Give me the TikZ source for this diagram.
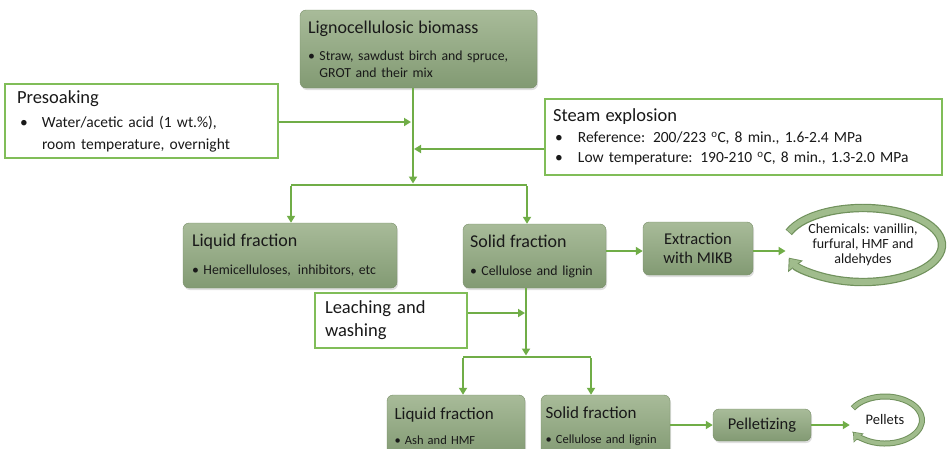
\documentclass[tikz,border=0pt]{standalone}
\usepackage{fontspec}
\setmainfont{Carlito}
\usepackage{tikz}
\usetikzlibrary{arrows.meta,shapes,positioning,shadows}
\definecolor{flowgreen}{RGB}{112,173,71}
\definecolor{boxtop}{RGB}{168,187,153}
\definecolor{boxbottom}{RGB}{130,154,115}
\definecolor{boxedge}{RGB}{120,142,104}
\definecolor{frameedge}{RGB}{128,189,88}
\definecolor{ringfill}{RGB}{160,188,140}
\definecolor{ringedge}{RGB}{112,145,92}
\definecolor{inktext}{RGB}{25,25,25}
\newcommand{\headfont}{\fontsize{18}{22}\selectfont}
\newcommand{\smallbul}{\fontsize{13.8}{17}\selectfont}
\newcommand{\midbul}{\fontsize{15.5}{22}\selectfont}
\tikzstyle{stage} = [rectangle, rounded corners=6pt, draw=boxedge, top color=boxtop, bottom color=boxbottom, drop shadow={shadow xshift=1pt, shadow yshift=-2pt, opacity=0.25}, align=left, inner xsep=0pt, inner ysep=0pt, text=inktext]
\tikzstyle{input} = [rectangle, draw=frameedge, line width=1.4pt, fill=white, align=left, inner xsep=0pt, inner ysep=0pt, text=inktext]
\tikzstyle{arrow} = [line width=2.6pt, ->, >={Triangle[length=7pt,width=8pt]}, color=flowgreen]
\tikzstyle{flow} = [line width=2.6pt, color=flowgreen]
\tikzstyle{ringout} = [line width=8.4pt, color=ringedge]
\tikzstyle{ringin} = [line width=6pt, color=ringfill]
\tikzstyle{product} = [ellipse, align=center, inner sep=0pt, text=inktext]

\begin{document}
\begin{tikzpicture}[x=1pt, y=-1pt]
\useasboundingbox (0,0) rectangle (949,448);
\clip (0,0) rectangle (949,448);

% Feedstock and pretreatment
\node (bio) [stage, minimum width=237pt, minimum height=78pt, text width=221pt, font=\smallbul] at (418.5,49)
  {{\headfont Lignocellulosic biomass}\\[10pt]\textbullet\ Straw, sawdust birch and spruce,\\\phantom{\textbullet\ }GROT and their mix};
\node (presoak) [input, minimum width=273pt, minimum height=74pt, text width=249pt, font=\midbul] at (141.5,121)
  {{\fontsize{18.5}{22}\selectfont Presoaking}\\[2pt]\hspace*{3pt}\makebox[22pt][l]{\textbullet}Water/acetic acid (1 wt.\%),\\\hspace*{25pt}room temperature, overnight};
\node (steam) [input, minimum width=397pt, minimum height=76pt, text width=381pt, font=\fontsize{15.5}{20}\selectfont] at (743.5,137)
  {{\fontsize{18.5}{22}\selectfont Steam explosion}\\[1pt]\hspace*{2pt}\makebox[23pt][l]{\textbullet}Reference: 200/223 \textsuperscript{o}C, 8 min., 1.6-2.4 MPa\\\hspace*{2pt}\makebox[23pt][l]{\textbullet}Low temperature: 190-210 \textsuperscript{o}C, 8 min., 1.3-2.0 MPa};

% First separation
\node (liq1) [stage, minimum width=214pt, minimum height=65pt, text width=196pt, font=\smallbul] at (290,255.5)
  {{\headfont Liquid fraction}\\[11pt]\textbullet\ Hemicelluloses,\, inhibitors, etc};
\node (sol1) [stage, minimum width=143pt, minimum height=64pt, text width=129pt, font=\smallbul] at (534.5,256)
  {{\headfont Solid fraction}\\[11pt]\textbullet\ Cellulose and lignin};
\node (extr) [stage, minimum width=110pt, minimum height=53pt, align=center, font=\fontsize{16.5}{19}\selectfont] at (698,248.5)
  {Extraction\\with MIKB};
\node (chem) [product, minimum width=150pt, minimum height=74pt, font=\fontsize{14}{15}\selectfont] at (863,245)
  {Chemicals: vanillin,\\furfural, HMF and\\aldehydes};

% Second separation
\node (leach) [input, minimum width=152pt, minimum height=55pt, text width=132pt, font=\fontsize{18.5}{23}\selectfont] at (391,320.5)
  {Leaching and\\washing};
\node (liq2) [stage, minimum width=138pt, minimum height=62pt, text width=123pt, font=\fontsize{12.5}{17}\selectfont] at (456,426)
  {{\fontsize{17}{20}\selectfont Liquid fraction}\\[8pt]\textbullet\ Ash and HMF};
\node (sol2) [stage, minimum width=129pt, minimum height=62pt, text width=120pt, font=\fontsize{12.5}{17}\selectfont] at (605.5,426)
  {{\fontsize{17}{20}\selectfont Solid fraction}\\[8pt]\textbullet\ Cellulose and lignin};
\node (pell) [stage, minimum width=98pt, minimum height=32pt, align=center, font=\fontsize{16.5}{19}\selectfont] at (762,425)
  {Pelletizing};
\node (pellets) [product, minimum width=70pt, minimum height=46pt, font=\fontsize{14.5}{16}\selectfont] at (885,420)
  {Pellets};

% Junctions
\coordinate (split1) at (413,185);
\coordinate (splitL) at (291,185);
\coordinate (splitR) at (527,185);
\coordinate (split2) at (526,357);
\coordinate (split2L) at (463,357);
\coordinate (split2R) at (591,357);

% Arrows
\draw[arrow] (bio.south -| split1) -- ([yshift=1.5pt]split1);
\draw[arrow, shorten >=1pt] (presoak.east |- 0,122) -- (412,122);
\draw[arrow, shorten >=1pt] ([yshift=-12pt]steam.west) -- ([yshift=-12pt]steam.west -| split1);
\draw[flow] (splitL) -- (splitR);
\draw[arrow] ([yshift=-1.3pt]splitL) -- (splitL |- liq1.north);
\draw[arrow] ([yshift=-1.3pt]splitR) -- (splitR |- sol1.north);
\draw[arrow] (sol1.east |- 0,251) -- (extr.west |- 0,251);
\draw[arrow] (extr.east |- 0,251) -- (chem.west |- 0,251);
\draw[arrow] (sol1.south -| split2) -- ([yshift=1.5pt]split2);
\draw[arrow, shorten >=1pt] ([yshift=7.5pt]leach.east) -- ([yshift=7.5pt]leach.east -| split2);
\draw[flow] (split2L) -- (split2R);
\draw[arrow] ([yshift=-1.3pt]split2L) -- (split2L |- liq2.north);
\draw[arrow] ([yshift=-1.3pt]split2R) -- (split2R |- sol2.north);
\draw[arrow] (sol2.east |- pell) -- (pell.west);
\draw[arrow] (pell.east) -- (pellets.west |- pell);

% Circular product arrows
\draw[ringout, -{Triangle[length=11pt,width=18pt]}] ([shift={(160:79pt and 37pt)}]chem.center) arc[start angle=160, end angle=-160, x radius=79pt, y radius=37pt];
\draw[ringin, -{Triangle[length=8.5pt,width=14pt]}, shorten >=1.4pt, shorten <=0.7pt] ([shift={(160:79pt and 37pt)}]chem.center) arc[start angle=160, end angle=-160, x radius=79pt, y radius=37pt];
\draw[ringout, line width=6pt, -{Triangle[length=8.5pt,width=13pt]}] ([shift={(150:37pt and 23.5pt)}]pellets.center) arc[start angle=150, end angle=-150, x radius=37pt, y radius=23.5pt];
\draw[ringin, line width=4pt, -{Triangle[length=6.5pt,width=10pt]}, shorten >=1.2pt, shorten <=0.6pt] ([shift={(150:37pt and 23.5pt)}]pellets.center) arc[start angle=150, end angle=-150, x radius=37pt, y radius=23.5pt];
\end{tikzpicture}
\end{document}
